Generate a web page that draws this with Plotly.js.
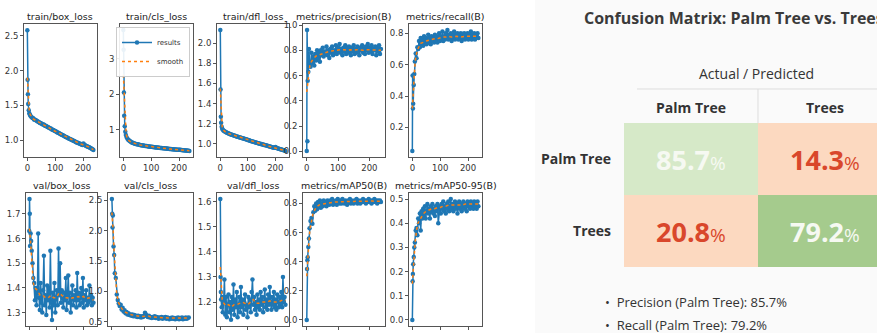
<!DOCTYPE html>
<html><head><meta charset="utf-8">
<script src="https://cdn.plot.ly/plotly-3.0.1.min.js"></script>
<style>html,body{margin:0;padding:0;background:#fff}#chart{width:877px;height:333px}</style>
</head><body><div id="chart"></div>
<script>
// ---------- DATA ----------
const epochs = [0,1,2,3,5,7,9,12,15,18,21,24,27,30,33,36,39,42,45,48,51,54,57,60,63,66,69,72,75,78,81,84,87,90,93,96,99,102,105,108,111,114,117,120,123,126,129,132,135,138,141,144,147,150,153,156,159,162,165,168,171,174,177,180,183,186,189,192,195,198,201,204,207,210,213,216,219,222,225,228,231,234,237];
const smoothEpochs = [0,2,4,7,10,15,20,30,40,50,60,70,80,90,100,110,120,130,140,150,160,170,180,190,200,210,220,230,237];

const titles = ["train/box_loss","train/cls_loss","train/dfl_loss","metrics/precision(B)","metrics/recall(B)",
                "val/box_loss","val/cls_loss","val/dfl_loss","metrics/mAP50(B)","metrics/mAP50-95(B)"];

const trainBox = [2.58,1.87,1.66,1.52,1.43,1.39,1.365,
 1.345,1.335,1.32,1.315,1.30,1.295,1.29,1.28,1.272,1.268,1.258,1.25,1.247,1.238,1.232,1.225,1.222,1.21,1.207,1.20,1.192,1.188,1.18,1.172,1.168,1.16,1.152,1.148,1.14,1.133,1.128,1.12,1.113,1.108,1.10,1.094,1.088,1.08,1.075,1.068,1.062,1.055,1.048,1.043,1.036,1.03,1.022,1.018,1.012,1.006,1.0,0.993,0.988,0.982,0.976,0.97,0.966,0.96,0.955,0.95,0.944,0.94,0.934,0.955,0.94,0.928,0.922,0.916,0.91,0.905,0.899,0.892,0.886,0.88,0.872,0.86];
const trainCls = [3.80,3.25,2.05,1.40,1.10,0.95,0.86,
 0.79,0.75,0.72,0.70,0.68,0.665,0.65,0.64,0.63,0.622,0.615,0.607,0.60,0.595,0.59,0.584,0.578,0.573,0.57,0.565,0.56,0.556,0.552,0.548,0.545,0.541,0.537,0.534,0.53,0.527,0.524,0.521,0.518,0.515,0.512,0.509,0.506,0.503,0.50,0.498,0.495,0.492,0.49,0.487,0.485,0.482,0.48,0.477,0.475,0.472,0.47,0.467,0.465,0.462,0.46,0.458,0.455,0.453,0.451,0.448,0.446,0.444,0.442,0.445,0.44,0.436,0.434,0.432,0.429,0.427,0.425,0.422,0.42,0.417,0.414,0.41];
const trainDfl = [2.13,1.54,1.27,1.21,1.17,1.15,1.14,
 1.13,1.125,1.12,1.115,1.11,1.107,1.103,1.10,1.097,1.094,1.09,1.088,1.085,1.082,1.08,1.077,1.074,1.072,1.069,1.066,1.064,1.061,1.058,1.056,1.053,1.05,1.048,1.045,1.043,1.04,1.037,1.035,1.032,1.03,1.027,1.025,1.022,1.02,1.017,1.015,1.012,1.01,1.007,1.005,1.002,1.0,0.998,0.995,0.993,0.99,0.988,0.986,0.983,0.981,0.979,0.976,0.974,0.972,0.97,0.967,0.965,0.963,0.961,0.97,0.962,0.957,0.955,0.952,0.95,0.948,0.945,0.943,0.94,0.937,0.934,0.93];
const precision = [0.004,0.96,0.08,0.56,0.63,0.81,0.70,
 0.67,0.78,0.70,0.75,0.68,0.77,0.72,0.80,0.74,0.78,0.71,0.80,0.76,0.82,0.75,0.79,0.77,0.83,0.76,0.80,0.74,0.81,0.78,0.83,0.76,0.80,0.78,0.84,0.77,0.82,0.79,0.85,0.78,0.81,0.76,0.82,0.79,0.84,0.77,0.81,0.78,0.83,0.80,0.76,0.82,0.79,0.84,0.77,0.81,0.78,0.83,0.79,0.76,0.82,0.80,0.84,0.78,0.81,0.77,0.83,0.80,0.85,0.78,0.82,0.79,0.84,0.77,0.81,0.80,0.83,0.76,0.82,0.79,0.84,0.77,0.81];
const recall = [0.05,0.53,0.32,0.35,0.47,0.54,0.62,
 0.67,0.64,0.71,0.70,0.75,0.71,0.77,0.73,0.76,0.72,0.78,0.74,0.77,0.73,0.76,0.79,0.74,0.77,0.73,0.78,0.75,0.77,0.74,0.79,0.75,0.78,0.74,0.77,0.80,0.75,0.78,0.76,0.81,0.75,0.78,0.76,0.80,0.77,0.82,0.76,0.79,0.77,0.80,0.75,0.79,0.77,0.81,0.76,0.79,0.78,0.80,0.76,0.79,0.77,0.80,0.75,0.79,0.77,0.80,0.76,0.79,0.77,0.80,0.76,0.79,0.78,0.81,0.76,0.79,0.77,0.80,0.76,0.79,0.78,0.80,0.77];
const valBox = [1.63,1.76,1.70,1.57,1.62,1.59,1.55,
 1.50,1.44,1.42,1.35,1.40,1.33,1.38,1.62,1.36,1.31,1.42,1.34,1.30,1.39,1.53,1.33,1.37,1.29,1.41,1.35,1.40,1.32,1.55,1.34,1.27,1.38,1.33,1.42,1.30,1.36,1.39,1.33,1.56,1.37,1.50,1.34,1.39,1.36,1.32,1.38,1.35,1.44,1.31,1.37,1.45,1.34,1.38,1.30,1.36,1.41,1.33,1.37,1.35,1.39,1.32,1.46,1.35,1.38,1.33,1.36,1.40,1.34,1.44,1.32,1.37,1.35,1.39,1.33,1.36,1.34,1.41,1.35,1.37,1.33,1.36,1.34];
const valCls = [2.52,2.28,2.05,2.25,1.74,1.60,1.30,
 1.22,0.95,0.86,0.80,0.76,0.78,0.70,0.73,0.67,0.69,0.64,0.66,0.62,0.64,0.61,0.62,0.60,0.62,0.59,0.61,0.59,0.60,0.58,0.60,0.58,0.59,0.57,0.59,0.58,0.60,0.65,0.62,0.59,0.58,0.60,0.57,0.58,0.56,0.58,0.57,0.59,0.56,0.58,0.57,0.55,0.57,0.56,0.58,0.55,0.57,0.56,0.58,0.55,0.57,0.56,0.54,0.56,0.55,0.57,0.55,0.56,0.54,0.56,0.55,0.57,0.54,0.56,0.55,0.57,0.54,0.56,0.55,0.57,0.55,0.56,0.57];
const valDfl = [1.61,1.30,1.24,1.21,1.18,1.22,1.16,
 1.20,1.29,1.15,1.22,1.14,1.19,1.23,1.16,1.20,1.13,1.22,1.17,1.27,1.15,1.21,1.18,1.24,1.14,1.19,1.22,1.16,1.26,1.18,1.21,1.15,1.20,1.23,1.17,1.19,1.14,1.22,1.18,1.21,1.16,1.24,1.29,1.19,1.22,1.17,1.20,1.15,1.23,1.18,1.21,1.17,1.24,1.19,1.22,1.16,1.20,1.25,1.18,1.21,1.17,1.23,1.19,1.26,1.20,1.17,1.22,1.19,1.24,1.18,1.21,1.17,1.23,1.20,1.18,1.22,1.19,1.24,1.18,1.30,1.20,1.22,1.19];
const map50 = [0.0,0.35,0.41,0.43,0.50,0.56,0.63,
 0.68,0.70,0.66,0.74,0.78,0.75,0.80,0.76,0.81,0.78,0.82,0.77,0.80,0.78,0.82,0.79,0.81,0.78,0.82,0.80,0.79,0.82,0.80,0.83,0.79,0.81,0.80,0.82,0.79,0.83,0.81,0.80,0.82,0.80,0.83,0.81,0.80,0.82,0.81,0.79,0.82,0.81,0.83,0.80,0.82,0.81,0.80,0.82,0.81,0.83,0.80,0.82,0.81,0.80,0.82,0.81,0.83,0.81,0.82,0.80,0.82,0.81,0.83,0.81,0.82,0.80,0.82,0.81,0.83,0.81,0.82,0.80,0.82,0.81,0.82,0.81];
const map5095 = [0.0,0.16,0.19,0.23,0.26,0.30,0.32,
 0.37,0.38,0.35,0.42,0.40,0.44,0.37,0.45,0.42,0.46,0.43,0.47,0.42,0.45,0.48,0.44,0.46,0.42,0.47,0.45,0.48,0.44,0.46,0.43,0.47,0.45,0.48,0.40,0.46,0.47,0.44,0.48,0.46,0.49,0.45,0.47,0.44,0.48,0.46,0.49,0.45,0.47,0.50,0.46,0.48,0.45,0.47,0.49,0.46,0.48,0.44,0.47,0.49,0.46,0.48,0.45,0.47,0.49,0.46,0.48,0.47,0.45,0.49,0.47,0.48,0.46,0.49,0.47,0.48,0.46,0.49,0.47,0.48,0.46,0.49,0.47];

const sTrainBox = [1.90,1.75,1.55,1.42,1.37,1.33,1.31,1.285,1.265,1.24,1.22,1.20,1.175,1.15,1.13,1.11,1.085,1.065,1.04,1.02,1.0,0.98,0.965,0.95,0.935,0.925,0.905,0.88,0.865];
const sTrainCls = [2.55,2.2,1.6,1.05,0.88,0.75,0.70,0.65,0.62,0.595,0.578,0.563,0.551,0.537,0.527,0.516,0.506,0.498,0.49,0.48,0.47,0.462,0.455,0.448,0.442,0.436,0.428,0.42,0.413];
const sTrainDfl = [1.55,1.45,1.3,1.17,1.14,1.125,1.115,1.103,1.094,1.083,1.074,1.066,1.058,1.048,1.04,1.032,1.022,1.015,1.006,0.998,0.99,0.982,0.974,0.967,0.962,0.955,0.947,0.938,0.932];
const sPrecision = [0.47,0.52,0.58,0.64,0.68,0.71,0.73,0.755,0.765,0.775,0.785,0.79,0.795,0.80,0.80,0.805,0.805,0.80,0.805,0.80,0.805,0.80,0.80,0.805,0.805,0.80,0.805,0.80,0.80];
const sRecall = [0.32,0.37,0.45,0.55,0.62,0.67,0.70,0.735,0.745,0.75,0.755,0.76,0.765,0.765,0.77,0.775,0.775,0.78,0.775,0.78,0.78,0.775,0.78,0.78,0.78,0.78,0.78,0.78,0.78];
const sValBox = [1.64,1.63,1.60,1.55,1.48,1.42,1.40,1.39,1.37,1.37,1.36,1.36,1.37,1.36,1.36,1.38,1.37,1.36,1.36,1.355,1.36,1.36,1.365,1.36,1.365,1.355,1.36,1.355,1.35];
const sValCls = [2.30,2.2,2.0,1.65,1.30,0.95,0.82,0.72,0.66,0.635,0.615,0.605,0.595,0.585,0.59,0.6,0.58,0.575,0.57,0.565,0.565,0.56,0.56,0.56,0.56,0.56,0.56,0.56,0.56];
const sValDfl = [1.34,1.30,1.25,1.21,1.20,1.19,1.185,1.19,1.18,1.19,1.19,1.195,1.2,1.195,1.19,1.2,1.21,1.195,1.195,1.2,1.2,1.2,1.205,1.2,1.2,1.2,1.205,1.21,1.205];
const sMap50 = [0.30,0.40,0.46,0.54,0.62,0.69,0.73,0.775,0.79,0.795,0.80,0.805,0.808,0.81,0.81,0.812,0.812,0.812,0.814,0.814,0.815,0.815,0.816,0.815,0.815,0.816,0.815,0.815,0.815];
const sMap5095 = [0.15,0.19,0.23,0.28,0.32,0.37,0.40,0.42,0.44,0.45,0.455,0.46,0.46,0.465,0.465,0.47,0.47,0.475,0.475,0.475,0.475,0.475,0.475,0.48,0.48,0.48,0.48,0.48,0.48];

const xTicks = [0,100,200];

const cmTitle = "Confusion Matrix: Palm Tree vs. Trees";
const cmAxisLabel = "Actual / Predicted";
const cmRows = ["Palm Tree","Trees"];
const cmCols = ["Palm Tree","Trees"];
const cmValues = [[85.7,14.3],[20.8,79.2]];
const bullets = ["Precision (Palm Tree): 85.7%","Recall (Palm Tree): 79.2%"];

// ---------- LAYOUT / STYLE ----------
const W = 877, H = 333;
const px = x => x / W, py = y => 1 - y / H;
const results = [trainBox,trainCls,trainDfl,precision,recall,valBox,valCls,valDfl,map50,map5095];
const smooths = [sTrainBox,sTrainCls,sTrainDfl,sPrecision,sRecall,sValBox,sValCls,sValDfl,sMap50,sMap5095];
const colsPx = [[[24,97],[120,193],[217,289],[303,385],[409,482]],
                [[26,97],[108,193],[217,289],[303,385],[409,482]]];
const rowsPx = [[24,157],[193,326]];
const yCfg = [
  {r:[0.76,2.67],d:0.5,f:'.1f'},{r:[0.24,3.97],d:1,f:'.0f'},{r:[0.87,2.19],d:0.2,f:'.1f'},
  {r:[-0.044,1.008],d:0.2,f:'.1f'},{r:[0.0115,0.8585],d:0.2,f:'.1f'},
  {r:[1.2455,1.7845],d:0.1,f:'.1f'},{r:[0.43,2.62],d:0.5,f:'.1f'},{r:[1.105,1.634],d:0.1,f:'.1f'},
  {r:[-0.0415,0.8715],d:0.2,f:'.1f'},{r:[-0.025,0.525],d:0.1,f:'.1f'}];

const tickFont = {family:'DejaVu Sans', size:8.5, color:'#333'};
const data = [];
const layout = {
  width:W, height:H, margin:{l:0,r:0,t:0,b:0},
  paper_bgcolor:'#ffffff', plot_bgcolor:'#ffffff',
  showlegend:true,
  legend:{x:px(190), xanchor:'right', y:py(27), yanchor:'top',
          font:{family:'DejaVu Sans', size:7, color:'#333'},
          bgcolor:'rgba(255,255,255,0.9)', bordercolor:'#cccccc', borderwidth:1,
          itemwidth:30, tracegroupgap:0},
  annotations:[], shapes:[]
};

// light panel behind confusion matrix
layout.shapes.push({type:'rect', xref:'paper', yref:'paper', x0:px(535), x1:1, y0:0, y1:1,
  fillcolor:'#fafafa', line:{width:0}, layer:'below'});

for (let k = 0; k < 10; k++) {
  const row = Math.floor(k/5), col = k%5;
  const n = k+1, xa = 'x'+(n===1?'':n), ya = 'y'+(n===1?'':n);
  const c = colsPx[row][col], rw = rowsPx[row];
  const isLegend = (k === 1);
  data.push({x:epochs, y:results[k], xaxis:xa, yaxis:ya, type:'scatter', mode:'lines+markers',
    name:'results', showlegend:isLegend, line:{color:'#1f77b4', width:1.5},
    marker:{color:'#1f77b4', size:4.5}, hoverinfo:'skip'});
  data.push({x:smoothEpochs, y:smooths[k], xaxis:xa, yaxis:ya, type:'scatter', mode:'lines',
    name:'smooth', showlegend:isLegend, line:{color:'#ff7f0e', width:1.5, dash:'dot'}, hoverinfo:'skip'});
  const axBase = {showline:true, mirror:true, linecolor:'#555', linewidth:1, ticks:'outside',
    ticklen:3, tickcolor:'#555', showgrid:false, zeroline:false, tickfont:tickFont, fixedrange:true};
  layout['xaxis'+(n===1?'':n)] = Object.assign({}, axBase, {domain:[px(c[0]),px(c[1])],
    anchor:ya, range:[-12,250], tickvals:xTicks});
  layout['yaxis'+(n===1?'':n)] = Object.assign({}, axBase, {domain:[py(rw[1]),py(rw[0])],
    anchor:xa, range:yCfg[k].r, dtick:yCfg[k].d, tick0:0, tickformat:yCfg[k].f});
  layout.annotations.push({text:titles[k], xref:'paper', yref:'paper',
    x:px((c[0]+c[1])/2), y:py(rw[0]-7), xanchor:'center', yanchor:'middle', showarrow:false,
    font:{family:'DejaVu Sans', size:9.5, color:'#222'}});
}

// ---------- CONFUSION MATRIX ----------
const cellW = 134;
const cmX0 = 624, cmY0 = 123, cmY1 = 267;
const span = (W - cmX0) / cellW;
data.push({type:'heatmap', z:cmValues, x:[0,1], y:cmRows, xaxis:'x11', yaxis:'y11',
  zmin:0, zmax:100, showscale:false, hoverinfo:'skip',
  colorscale:[[0,'#fcd9c0'],[0.5,'#fcd9c0'],[0.5,'#a5cb8d'],[0.82,'#a5cb8d'],[0.82,'#d6e9c8'],[1,'#d6e9c8']]});
layout.xaxis11 = {domain:[px(cmX0),1], anchor:'y11', range:[-0.5,-0.5+span], side:'top',
  tickvals:[0,1], ticktext:cmCols, ticks:'', showline:false, showgrid:false, zeroline:false,
  ticklabelstandoff:6, fixedrange:true,
  tickfont:{family:'Open Sans', size:14, color:'#333', weight:'bold'}};
layout.yaxis11 = {domain:[py(cmY1),py(cmY0)], anchor:'x11', type:'category', range:[1.5,-0.5],
  ticks:'', showline:false, showgrid:false, zeroline:false, ticklabelstandoff:12, fixedrange:true,
  tickfont:{family:'Open Sans', size:14, color:'#333', weight:'bold'}};
cmValues.forEach((rowVals, i) => rowVals.forEach((v, j) => {
  layout.annotations.push({xref:'x11', yref:'y11', x:j, y:cmRows[i], showarrow:false,
    text:'<b>'+v.toFixed(1)+'</b><span style="font-size:19px">%</span>',
    font:{family:'Open Sans', size:27, color: i===j ? '#f6f9f2' : '#d9472b'}});
}));
layout.annotations.push({text:'<b>'+cmTitle+'</b>', xref:'paper', yref:'paper', x:px(734), y:py(18),
  xanchor:'center', yanchor:'middle', showarrow:false, font:{family:'Open Sans', size:16, color:'#3a3a3a'}});
layout.annotations.push({text:cmAxisLabel, xref:'paper', yref:'paper', x:px(756), y:py(73),
  xanchor:'center', yanchor:'middle', showarrow:false, font:{family:'Open Sans', size:14, color:'#333'}});
bullets.forEach((b, i) => layout.annotations.push({text:'•  '+b, xref:'paper', yref:'paper',
  x:px(603), y:py(302 + i*23), xanchor:'left', yanchor:'middle', showarrow:false,
  font:{family:'Open Sans', size:13, color:'#333'}}));
layout.shapes.push({type:'line', xref:'paper', yref:'paper', x0:px(637), x1:1, y0:py(89), y1:py(89),
  line:{color:'#dddddd', width:1}});
layout.shapes.push({type:'line', xref:'paper', yref:'paper', x0:px(758), x1:px(758), y0:py(89), y1:py(123),
  line:{color:'#dddddd', width:1}});

Plotly.newPlot('chart', data, layout, {displayModeBar:false, staticPlot:true});
</script></body></html>
